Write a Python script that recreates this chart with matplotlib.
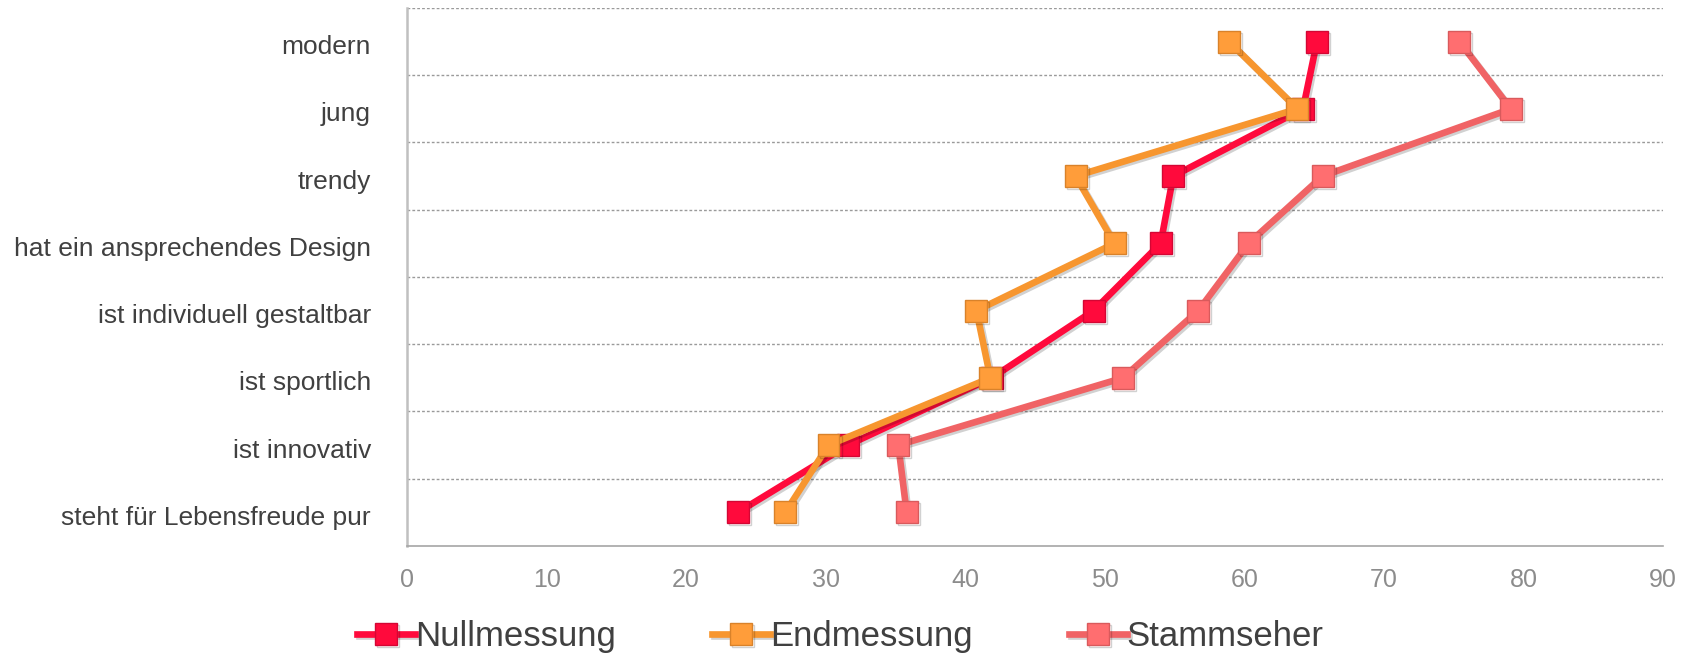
import matplotlib
matplotlib.use("Agg")
import matplotlib.pyplot as plt
import matplotlib.patheffects as pe
import matplotlib.transforms as mtransforms
import numpy as np

plt.rcParams['font.family'] = ['Liberation Sans', 'DejaVu Sans']

# Image attributes, listed top to bottom
categories = [
    "modern",
    "jung",
    "trendy",
    "hat ein ansprechendes Design",
    "ist individuell gestaltbar",
    "ist sportlich",
    "ist innovativ",
    "steht für Lebensfreude pur",
]

nullmessung = [65.2, 64.2, 54.9, 54.0, 49.2, 41.9, 31.6, 23.7]
endmessung = [58.9, 63.8, 47.9, 50.7, 40.8, 41.8, 30.2, 27.1]
stammseher = [75.4, 79.1, 65.6, 60.3, 56.7, 51.3, 35.2, 35.8]

series_names = ["Nullmessung", "Endmessung", "Stammseher"]
x_ticks = [0, 10, 20, 30, 40, 50, 60, 70, 80, 90]

line_colors = ["#FF0A3C", "#F7962F", "#F06365"]
face_colors = ["#FF0A3C", "#FF9D3A", "#FF6E70"]
edge_colors = ["#D40634", "#D9822A", "#D95A5C"]

fig = plt.figure(figsize=(17.01, 6.56), dpi=100)
ax = fig.add_axes([0.2393, 0.1677, 0.9777 - 0.2393, 0.9878 - 0.1677])

y = np.arange(len(categories))
shadow = [pe.SimpleLineShadow(offset=(1.5, -1.5), shadow_color="black", alpha=0.18),
          pe.Normal()]

handles = []
for vals, name, lc, fc, ec in zip([nullmessung, endmessung, stammseher],
                                  series_names, line_colors, face_colors, edge_colors):
    h, = ax.plot(vals, y, color=lc, linewidth=4.8, marker="s", markersize=15.8,
                 markerfacecolor=fc, markeredgecolor=ec, markeredgewidth=1.0,
                 solid_joinstyle="round", label=name, path_effects=shadow, zorder=3)
    handles.append(h)

ax.set_xlim(0, 90)
ax.set_ylim(len(categories) - 0.5, -0.5)
ax.set_xticks(x_ticks)
ax.set_xticklabels([str(t) for t in x_ticks])
ax.set_yticks(y)
ax.set_yticklabels(categories)

# dotted separators between categories
ax.set_yticks(np.arange(-0.5, len(categories) - 0.5, 1.0), minor=True)
ax.grid(which="minor", axis="y", linestyle=(0, (2, 1.5)), color="#9a9a9a", linewidth=1.0)
ax.grid(which="major", visible=False)

ax.tick_params(axis="both", which="both", length=0)
ax.tick_params(axis="y", labelsize=19, labelcolor="#404040", pad=26)
ax.tick_params(axis="x", labelsize=18, labelcolor="#8c8c8c", pad=15.5)

# nudge category labels slightly downward
offset = mtransforms.ScaledTranslation(0, -3 / 100, fig.dpi_scale_trans)
for lbl in ax.get_yticklabels():
    lbl.set_transform(lbl.get_transform() + offset)

for s in ["top", "right"]:
    ax.spines[s].set_visible(False)
ax.spines["left"].set_color("#c0c0c0")
ax.spines["left"].set_linewidth(1.8)
ax.spines["bottom"].set_color("#a6a6a6")
ax.spines["bottom"].set_linewidth(1.2)

leg = fig.legend(handles=handles, labels=series_names, loc="center",
                 bbox_to_anchor=(0.494, 0.03), ncol=3, frameon=False,
                 fontsize=25, handlelength=1.66, handletextpad=0.0,
                 columnspacing=2.78, borderaxespad=0)
for t in leg.get_texts():
    t.set_color("#404040")

fig.savefig("out.png", dpi=100, facecolor="white")
